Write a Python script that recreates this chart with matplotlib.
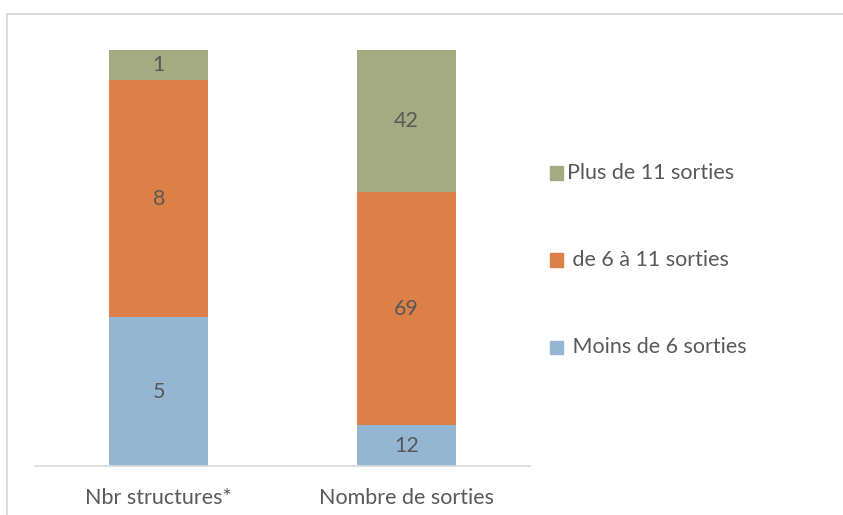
import matplotlib.pyplot as plt
from matplotlib.patches import Rectangle
from matplotlib.lines import Line2D
import numpy as np

categories = ['Nbr structures*', 'Nombre de sorties']
series_names = ['Moins de 6 sorties', 'de 6 à 11 sorties', 'Plus de 11 sorties']
legend_labels = [' Moins de 6 sorties', ' de 6 à 11 sorties', 'Plus de 11 sorties']
moins_6 = [5, 12]
de_6_a_11 = [8, 69]
plus_11 = [1, 42]
colors = ['#94B6D2', '#DD8047', '#A5AB81']

plt.rcParams['font.family'] = ['Lato', 'DejaVu Sans']
txt = '#595959'
fs = 15.5

fig = plt.figure(figsize=(8.43, 5.15), dpi=100)
W, H = 843, 515
ax = fig.add_axes([35 / W, 1 - 466 / H, (530 - 35) / W, (466 - 50) / H])

# cadre du graphique (bords gauche et haut visibles)
fig.lines.append(Line2D([6.5 / W, 6.5 / W], [0, 1 - 13.5 / H], transform=fig.transFigure,
                        color='#d9d9d9', linewidth=1.3))
fig.lines.append(Line2D([6.5 / W, 1], [1 - 13.5 / H, 1 - 13.5 / H], transform=fig.transFigure,
                        color='#d9d9d9', linewidth=1.3))

data = np.array([moins_6, de_6_a_11, plus_11], dtype=float)
totals = data.sum(axis=0)
x = np.arange(len(categories))
bottom = np.zeros(len(categories))
for vals, name, c in zip(data, series_names, colors):
    frac = vals / totals
    ax.bar(x, frac, 0.4, bottom=bottom, color=c, label=name)
    for xi, f, bt, v in zip(x, frac, bottom, vals):
        ax.text(xi, bt + f / 2, str(int(v)), ha='center', va='center', fontsize=fs, color=txt)
    bottom += frac

ax.set_xlim(-0.5, 1.5)
ax.set_ylim(0, 1)
ax.set_yticks([])
ax.set_xticks(x)
ax.set_xticklabels(categories, fontsize=fs, color=txt)
ax.tick_params(axis='x', length=0, pad=16)
for s in ['top', 'right', 'left']:
    ax.spines[s].set_visible(False)
ax.spines['bottom'].set_color('#d9d9d9')
ax.spines['bottom'].set_linewidth(1.2)

# légende
leg_y = [173, 260, 347]
for yy, lab, c in zip(leg_y, legend_labels[::-1], colors[::-1]):
    fig.patches.append(Rectangle((550 / W, 1 - (yy + 6.5) / H), 13 / W, 13 / H,
                                 transform=fig.transFigure, color=c))
    fig.text(567 / W, 1 - yy / H, lab, fontsize=fs, color=txt, va='center', ha='left')

fig.savefig('out.png', dpi=100)
